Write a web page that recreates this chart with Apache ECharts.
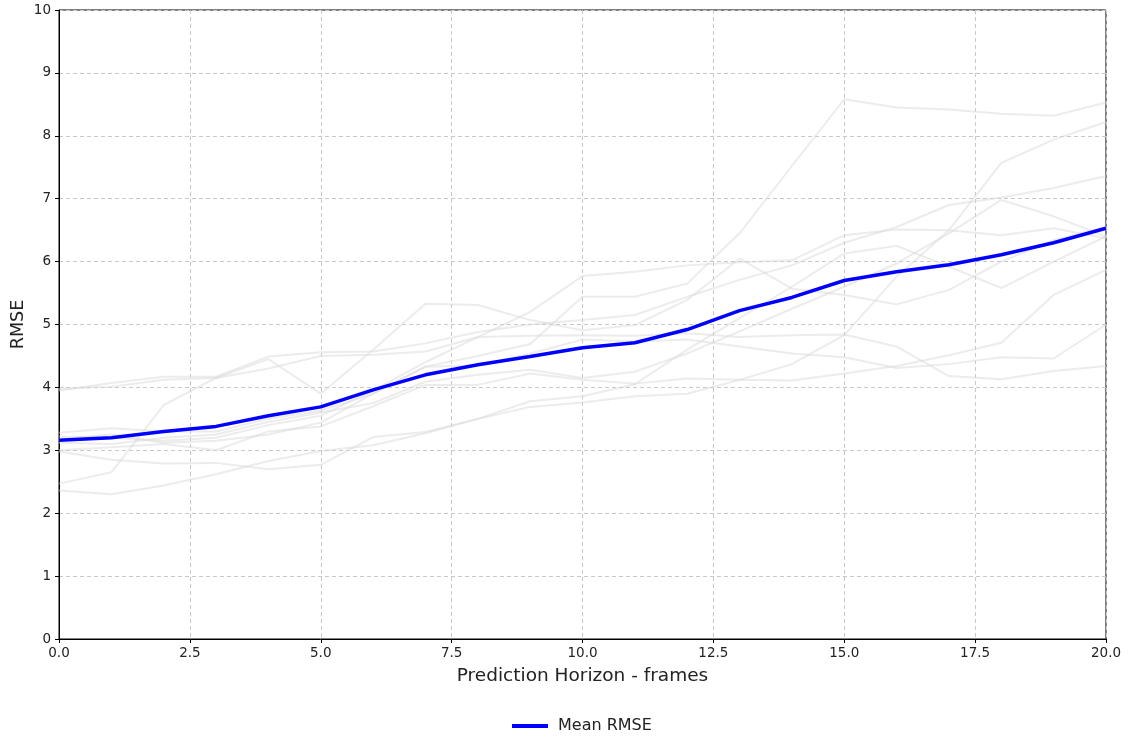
<!DOCTYPE html>
<html>
<head>
<meta charset="utf-8">
<script src="https://cdn.jsdelivr.net/npm/echarts@6/dist/echarts.min.js"></script>
<style>html,body{margin:0;padding:0;background:#fff;}#c{width:1129px;height:738px;}</style>
</head>
<body>
<div id="c"></div>
<script>
const frames = [0,1,2,3,4,5,6,7,8,9,10,11,12,13,14,15,16,17,18,19,20];
const xTicks = [0, 2.5, 5, 7.5, 10, 12.5, 15, 17.5, 20];
const yTicks = [0,1,2,3,4,5,6,7,8,9,10];

const run1  = [3.28,3.35,3.3,3.3,3.5,3.63,3.9,4.33,4.5,4.69,5.44,5.44,5.65,6.45,7.52,8.58,8.45,8.42,8.35,8.32,8.53];
const run2  = [2.36,2.3,2.44,2.62,2.83,2.99,3.08,3.27,3.5,3.69,3.76,3.86,3.9,4.12,4.37,4.83,5.76,6.5,7.57,7.94,8.22];
const run3  = [3.95,4.07,4.17,4.17,4.49,4.56,4.57,4.7,4.88,5.0,5.07,5.15,5.44,5.71,5.94,6.3,6.55,6.9,7.02,7.17,7.36];
const run4  = [3.22,3.2,3.15,3.2,3.4,3.55,3.95,4.4,4.8,5.2,5.77,5.84,5.94,5.99,6.02,6.42,6.51,6.5,6.42,6.53,6.37];
const run5  = [3.12,3.1,3.2,3.25,3.45,3.6,3.75,4.09,4.2,4.28,4.15,4.25,4.54,4.89,5.25,5.6,5.97,6.45,6.98,6.72,6.4];
const run6  = [2.98,2.85,2.79,2.8,2.7,2.77,3.21,3.29,3.5,3.78,3.86,4.05,4.6,5.1,5.6,6.13,6.25,5.92,5.58,6.0,6.4];
const run7  = [2.47,2.65,3.72,4.15,4.45,3.9,4.6,5.33,5.31,5.07,4.91,4.99,5.39,6.05,5.57,5.47,5.32,5.55,6.0,6.34,6.55];
const run8  = [3.0,3.05,3.1,3.0,3.3,3.38,3.7,4.04,4.04,4.22,4.12,4.06,4.14,4.12,4.11,4.22,4.34,4.51,4.71,5.47,5.87];
const run9  = [3.18,3.25,3.12,3.15,3.25,3.44,3.9,4.33,4.35,4.54,4.76,4.73,4.76,4.65,4.54,4.48,4.31,4.37,4.48,4.46,5.0];
const run10 = [3.98,4.01,4.12,4.15,4.3,4.5,4.52,4.57,4.8,4.82,4.83,4.82,4.86,4.8,4.83,4.84,4.65,4.18,4.13,4.26,4.34];
const meanRMSE = [3.16,3.2,3.3,3.38,3.55,3.69,3.96,4.2,4.36,4.49,4.63,4.71,4.92,5.22,5.43,5.7,5.84,5.95,6.11,6.3,6.53];

const runs = [run1,run2,run3,run4,run5,run6,run7,run8,run9,run10];
const pairs = arr => frames.map((f,i)=>[f, arr[i]]);

const font = 'DejaVu Sans, sans-serif';
const series = runs.map((r,i)=>({
  name: 'run' + (i+1),
  type: 'line',
  data: pairs(r),
  showSymbol: false,
  silent: true,
  z: 2,
  itemStyle: { color: '#d9d9d9' },
  lineStyle: { color: '#d9d9d9', width: 2, opacity: 0.5 }
}));
series.push({
  name: 'Mean RMSE',
  type: 'line',
  data: pairs(meanRMSE),
  showSymbol: false,
  z: 5,
  itemStyle: { color: '#0000ff' },
  lineStyle: { color: '#0000ff', width: 3.5 }
});

const chart = echarts.init(document.getElementById('c'), null, {renderer: 'canvas'});
chart.setOption({
  animation: false,
  backgroundColor: '#fff',
  grid: { left: 59, right: 23, top: 10, bottom: 99, containLabel: false, outerBoundsMode: 'none',
    show: true, borderColor: '#000', borderWidth: 1, backgroundColor: 'transparent' },
  legend: {
    data: ['Mean RMSE'],
    top: 713,
    left: 507,
    icon: 'rect',
    itemWidth: 36,
    itemHeight: 4,
    itemGap: 10,
    textStyle: { fontFamily: font, fontSize: 16, color: '#222', padding: [0, 0, 0, 5] }
  },
  xAxis: {
    type: 'value',
    min: 0, max: 20, interval: 2.5,
    name: 'Prediction Horizon - frames',
    nameLocation: 'middle',
    nameGap: 28,
    nameMoveOverlap: false,
    nameTextStyle: { fontFamily: font, fontSize: 18.5, color: '#222' },
    axisLine: { show: true, lineStyle: { color: '#000', width: 1 } },
    axisTick: { show: true, length: 4, lineStyle: { color: '#000' } },
    axisLabel: { fontFamily: font, fontSize: 13.5, color: '#222', margin: 7,
      formatter: v => xTicks.includes(v) ? v.toFixed(1) : '' },
    splitLine: { show: true, lineStyle: { color: '#c8c8c8', type: [4, 3], width: 1 } }
  },
  yAxis: {
    type: 'value',
    min: 0, max: 10, interval: 1,
    name: 'RMSE',
    nameLocation: 'middle',
    nameGap: 32,
    nameRotate: 90,
    nameMoveOverlap: false,
    nameTextStyle: { fontFamily: font, fontSize: 17.5, color: '#222' },
    axisLine: { show: true, lineStyle: { color: '#000', width: 1 } },
    axisTick: { show: true, length: 4, lineStyle: { color: '#000' } },
    axisLabel: { fontFamily: font, fontSize: 13.5, color: '#222', margin: 8,
      formatter: v => yTicks.includes(v) ? String(v) : '' },
    splitLine: { show: true, lineStyle: { color: '#c8c8c8', type: [4, 3], width: 1 } }
  },
  series: series
});
</script>
</body>
</html>
